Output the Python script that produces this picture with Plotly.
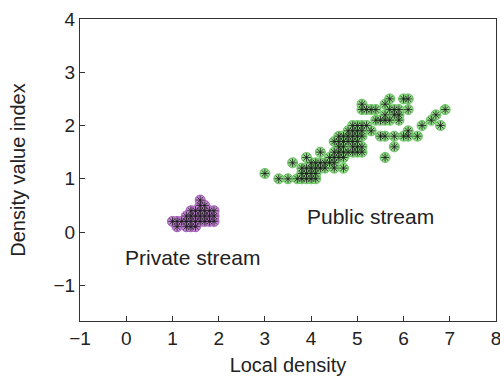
import plotly.graph_objects as go

# Public stream points (local density, density value index)
public_x = [3.3, 3.5, 3.7, 3.8, 3.9, 4.0, 4.1,
            3.0, 3.8, 3.9, 4.0, 4.1,
            3.8, 3.9, 4.0, 4.1, 4.2, 4.3, 4.5, 4.7,
            3.6, 4.0, 4.1, 4.2, 4.3, 4.4, 4.5,
            3.9, 4.4, 4.5, 4.6, 4.7, 5.6,
            4.2, 4.5, 4.6, 4.7, 4.8, 4.9, 5.0, 5.1,
            4.6, 4.7, 4.9, 5.0, 5.1, 5.8,
            4.5, 4.6, 4.7, 4.8, 4.9, 5.0,
            4.6, 4.7, 4.8, 4.9, 5.0, 5.1, 5.5, 5.6, 5.8, 6.0, 6.1, 6.3,
            4.8, 4.9, 5.0, 5.1, 5.3, 6.1,
            4.9, 5.0, 5.1, 5.2, 6.4, 6.8,
            5.4, 5.5, 5.6, 5.7, 5.9, 6.6,
            5.6, 5.8, 5.9, 6.7,
            5.1, 5.2, 5.3, 5.4, 5.7, 5.8, 5.9, 6.1, 6.9,
            5.1, 5.6,
            5.7, 6.0, 6.1]
public_y = [1.0, 1.0, 1.0, 1.0, 1.0, 1.0, 1.0,
            1.1, 1.1, 1.1, 1.1, 1.1,
            1.2, 1.2, 1.2, 1.2, 1.2, 1.2, 1.2, 1.2,
            1.3, 1.3, 1.3, 1.3, 1.3, 1.3, 1.3,
            1.4, 1.4, 1.4, 1.4, 1.4, 1.4,
            1.5, 1.5, 1.5, 1.5, 1.5, 1.5, 1.5, 1.5,
            1.6, 1.6, 1.6, 1.6, 1.6, 1.6,
            1.7, 1.7, 1.7, 1.7, 1.7, 1.7,
            1.8, 1.8, 1.8, 1.8, 1.8, 1.8, 1.8, 1.8, 1.8, 1.8, 1.8, 1.8,
            1.9, 1.9, 1.9, 1.9, 1.9, 1.9,
            2.0, 2.0, 2.0, 2.0, 2.0, 2.0,
            2.1, 2.1, 2.1, 2.1, 2.1, 2.1,
            2.2, 2.2, 2.2, 2.2,
            2.3, 2.3, 2.3, 2.3, 2.3, 2.3, 2.3, 2.3, 2.3,
            2.4, 2.4,
            2.5, 2.5, 2.5]

# Private stream points
private_x = [1.0, 1.1, 1.1, 1.2, 1.3, 1.3, 1.3, 1.4, 1.4, 1.4, 1.4,
             1.5, 1.5, 1.5, 1.5, 1.6, 1.6, 1.6, 1.6, 1.6,
             1.7, 1.7, 1.7, 1.7, 1.8, 1.8, 1.8, 1.9, 1.9, 1.9]
private_y = [0.2, 0.1, 0.2, 0.2, 0.1, 0.2, 0.3, 0.1, 0.2, 0.3, 0.4,
             0.1, 0.2, 0.3, 0.4, 0.2, 0.3, 0.4, 0.5, 0.6,
             0.2, 0.3, 0.4, 0.5, 0.2, 0.3, 0.4, 0.2, 0.3, 0.4]

x_ticks = [-1, 0, 1, 2, 3, 4, 5, 6, 7, 8]
y_ticks = [-1, 0, 1, 2, 3, 4]

FONT = "Arial, Liberation Sans, sans-serif"

fig = go.Figure()

def add_cluster(xs, ys, fill, edge):
    fig.add_trace(go.Scatter(
        x=xs, y=ys, mode="markers",
        marker=dict(symbol="circle", size=10, color=fill,
                    line=dict(color=edge, width=1)),
        hoverinfo="skip", showlegend=False, cliponaxis=False))
    fig.add_trace(go.Scatter(
        x=xs, y=ys, mode="markers",
        marker=dict(symbol="asterisk-open", size=7, color="#1a1a1a",
                    line=dict(color="#1a1a1a", width=0.8)),
        hoverinfo="skip", showlegend=False, cliponaxis=False))

add_cluster(public_x, public_y, "#94de8b", "#66c060")
add_cluster(private_x, private_y, "#c98ad9", "#a05cb6")

fig.add_annotation(x=5.28, y=0.30, text="Public stream", showarrow=False,
                   font=dict(family=FONT, size=21, color="#222"))
fig.add_annotation(x=1.43, y=-0.47, text="Private stream", showarrow=False,
                   font=dict(family=FONT, size=21, color="#222"))

axis_common = dict(showgrid=False, zeroline=False, showline=True,
                   linecolor="#333", linewidth=1, mirror=True,
                   ticks="inside", ticklen=5, tickcolor="#333",
                   automargin=False, ticklabeloverflow="allow",
                   tickfont=dict(family=FONT, size=19, color="#222"))

fig.update_xaxes(range=[-1, 8], tickvals=x_ticks,
                 ticktext=["\u22121" if v < 0 else str(v) for v in x_ticks],
                 title=dict(text="Local density",
                            font=dict(family=FONT, size=20, color="#222"),
                            standoff=10),
                 **axis_common)
fig.update_yaxes(range=[-1.67, 4], tickvals=y_ticks,
                 ticktext=["\u22121" if v < 0 else str(v) for v in y_ticks],
                 title=dict(text="Density value index",
                            font=dict(family=FONT, size=20, color="#222"),
                            standoff=22),
                 **axis_common)

fig.update_layout(width=500, height=385,
                  margin=dict(l=80, r=4, t=19, b=64),
                  plot_bgcolor="white", paper_bgcolor="white")

fig.write_html("out.html", config={"displayModeBar": False},
               post_script="document.body.style.margin='0';document.body.style.overflow='hidden';")
